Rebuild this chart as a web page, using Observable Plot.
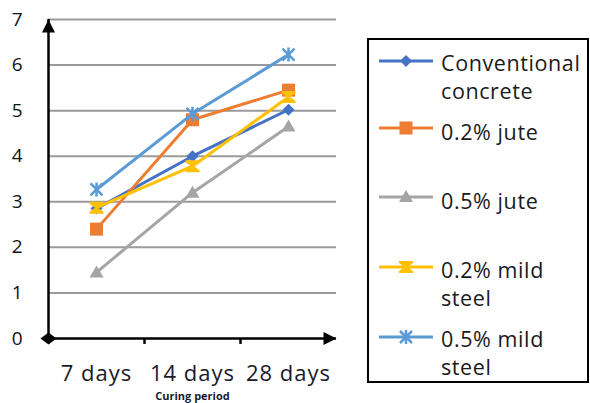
<!DOCTYPE html>
<html>
<head>
<meta charset="utf-8">
<script src="https://cdn.jsdelivr.net/npm/d3@7"></script>
<script src="https://cdn.jsdelivr.net/npm/@observablehq/plot@0.6"></script>
<style>
  html, body { margin: 0; padding: 0; background: #fff; }
  #wrap { position: relative; width: 590px; height: 403px; overflow: hidden; font-family: "Open Sans", sans-serif; }
  #legend { position: absolute; left: 367px; top: 38px; width: 218px; height: 341px; border: 2px solid #000; }
  .item { position: absolute; left: 9px; }
  .item svg { position: absolute; left: 0; }
  .lab { position: absolute; left: 63px; font-size: 21.5px; letter-spacing: 0.6px; line-height: 28px; color: #1a1a1a; white-space: nowrap; }
</style>
</head>
<body>
<div id="wrap"></div>
<script>
// Curing periods and strength results per mix
const periods = ["7 days", "14 days", "28 days"];
const seriesNames = ["Conventional concrete", "0.2% jute", "0.5% jute", "0.2% mild steel", "0.5% mild steel"];
const conventional = [2.85, 4.0, 5.02];
const jute02 = [2.4, 4.8, 5.45];
const jute05 = [1.45, 3.2, 4.65];
const steel02 = [2.87, 3.78, 5.3];
const steel05 = [3.27, 4.93, 6.23];
const yTicks = [0, 1, 2, 3, 4, 5, 6, 7];
const xTitle = "Curing period";
const colors = ["#4472C4", "#ED7D31", "#A5A5A5", "#FFC000", "#5B9BD5"];
const legendLines = [["Conventional", "concrete"], ["0.2% jute"], ["0.5% jute"], ["0.2% mild", "steel"], ["0.5% mild", "steel"]];

const values = [conventional, jute02, jute05, steel02, steel05];
const rows = seriesNames.flatMap((s, i) => periods.map((p, j) => ({series: s, period: p, value: values[i][j], idx: i})));

// marker shapes
const diamond = {draw(c) { c.moveTo(0, -6); c.lineTo(6, 0); c.lineTo(0, 6); c.lineTo(-6, 0); c.closePath(); }};
const square = {draw(c) { c.rect(-6.5, -6.5, 13, 13); }};
const triangle = {draw(c) { c.moveTo(0, -7); c.lineTo(7, 5); c.lineTo(-7, 5); c.closePath(); }};
const hourglass = {draw(c) {
  c.moveTo(-7, -6); c.lineTo(7, -6); c.lineTo(7, -4); c.lineTo(1.5, 0); c.lineTo(7, 4); c.lineTo(7, 6);
  c.lineTo(-7, 6); c.lineTo(-7, 4); c.lineTo(-1.5, 0); c.lineTo(-7, -4); c.closePath();
}};
const star = {draw(c) { c.moveTo(-6, -6); c.lineTo(6, 6); c.moveTo(6, -6); c.lineTo(-6, 6); c.moveTo(0, -7); c.lineTo(0, 7); }};
const symbols = [diamond, square, triangle, hourglass, star];
const strokeOnly = [false, false, false, false, true];

// axis ornaments
const arrowUp = {draw(c) { c.moveTo(0, 0); c.lineTo(6.5, 13); c.lineTo(-6.5, 13); c.closePath(); }};
const arrowRight = {draw(c) { c.moveTo(0, 0); c.lineTo(-13, -6.5); c.lineTo(-13, 6.5); c.closePath(); }};
const originDiamond = {draw(c) { c.moveTo(-8, 0); c.lineTo(0, -6); c.lineTo(8, 0); c.lineTo(0, 6); c.closePath(); }};

const marks = [
  Plot.ruleY(yTicks.slice(1), {stroke: "#9a9a9a", strokeWidth: 2}),
  // vertical axis line
  Plot.ruleX([periods[0]], {x: d => d, dx: -48, y1: 0, y2: 7, stroke: "#000", strokeWidth: 2.5}),
  // horizontal axis line
  Plot.ruleY([0], {stroke: "#000", strokeWidth: 2.5}),
  // category separators
  Plot.ruleX(periods.slice(0, 2), {x: d => d, dx: 48, y1: 0, y2: -0.13, stroke: "#000", strokeWidth: 2.5}),
  Plot.dot([periods[0]], {x: d => d, dx: -48, y: 7, symbol: arrowUp, fill: "#000", stroke: null}),
  Plot.dot([periods[2]], {x: d => d, dx: 48, y: 0, symbol: arrowRight, fill: "#000", stroke: null}),
  Plot.dot([periods[0]], {x: d => d, dx: -48, y: 0, symbol: originDiamond, fill: "#000", stroke: null}),
  Plot.axisY(yTicks, {tickSize: 0, tickPadding: 26, fontSize: 19, fill: "#111", label: null}),
  Plot.axisX(periods, {tickSize: 0, tickPadding: 27, fontSize: 22, fill: "#1a1a2a", label: null}),
  Plot.text([xTitle], {x: () => periods[1], y: () => 0, dy: 58, fontSize: 11, fontWeight: "bold", fill: "#1a1a2a", text: d => d})
];

seriesNames.forEach((s, i) => {
  const data = rows.filter(r => r.idx === i);
  marks.push(Plot.line(data, {x: "period", y: "value", stroke: colors[i], strokeWidth: 3}));
  marks.push(Plot.dot(data, strokeOnly[i]
    ? {x: "period", y: "value", symbol: star, stroke: colors[i], strokeWidth: 2.5, fill: "none"}
    : {x: "period", y: "value", symbol: symbols[i], fill: colors[i], stroke: null}));
});

const chart = Plot.plot({
  width: 590,
  height: 403,
  marginLeft: 48,
  marginRight: 254,
  marginTop: 19,
  marginBottom: 65,
  style: {fontFamily: "Open Sans, sans-serif", background: "#fff", overflow: "visible"},
  x: {type: "point", domain: periods, padding: 0.5, axis: null},
  y: {domain: [0, 7], axis: null},
  marks
});
d3.select(chart).selectAll('g[aria-label="x-axis tick label"] text').style("letter-spacing", "1px");

const wrap = document.getElementById("wrap");
wrap.appendChild(chart);

// legend box
const legend = document.createElement("div");
legend.id = "legend";
wrap.appendChild(legend);
const lineY = [21, 88, 157, 227, 297];
const textTop = [9, 78, 147, 216, 285];
seriesNames.forEach((s, i) => {
  const item = document.createElement("div");
  item.className = "item";
  item.style.top = "0px";
  const svg = d3.create("svg").attr("width", 56).attr("height", 18)
    .style("top", (lineY[i] - 9) + "px");
  svg.append("line").attr("x1", 1).attr("x2", 55).attr("y1", 9).attr("y2", 9)
    .attr("stroke", colors[i]).attr("stroke-width", 3);
  const p = d3.path();
  symbols[i].draw(p);
  svg.append("path").attr("d", p.toString()).attr("transform", "translate(28,9)")
    .attr("fill", strokeOnly[i] ? "none" : colors[i])
    .attr("stroke", strokeOnly[i] ? colors[i] : "none").attr("stroke-width", 2.5);
  item.appendChild(svg.node());
  const lab = document.createElement("div");
  lab.className = "lab";
  lab.style.top = textTop[i] + "px";
  lab.innerHTML = legendLines[i].join("<br>");
  item.appendChild(lab);
  legend.appendChild(item);
});
</script>
</body>
</html>
